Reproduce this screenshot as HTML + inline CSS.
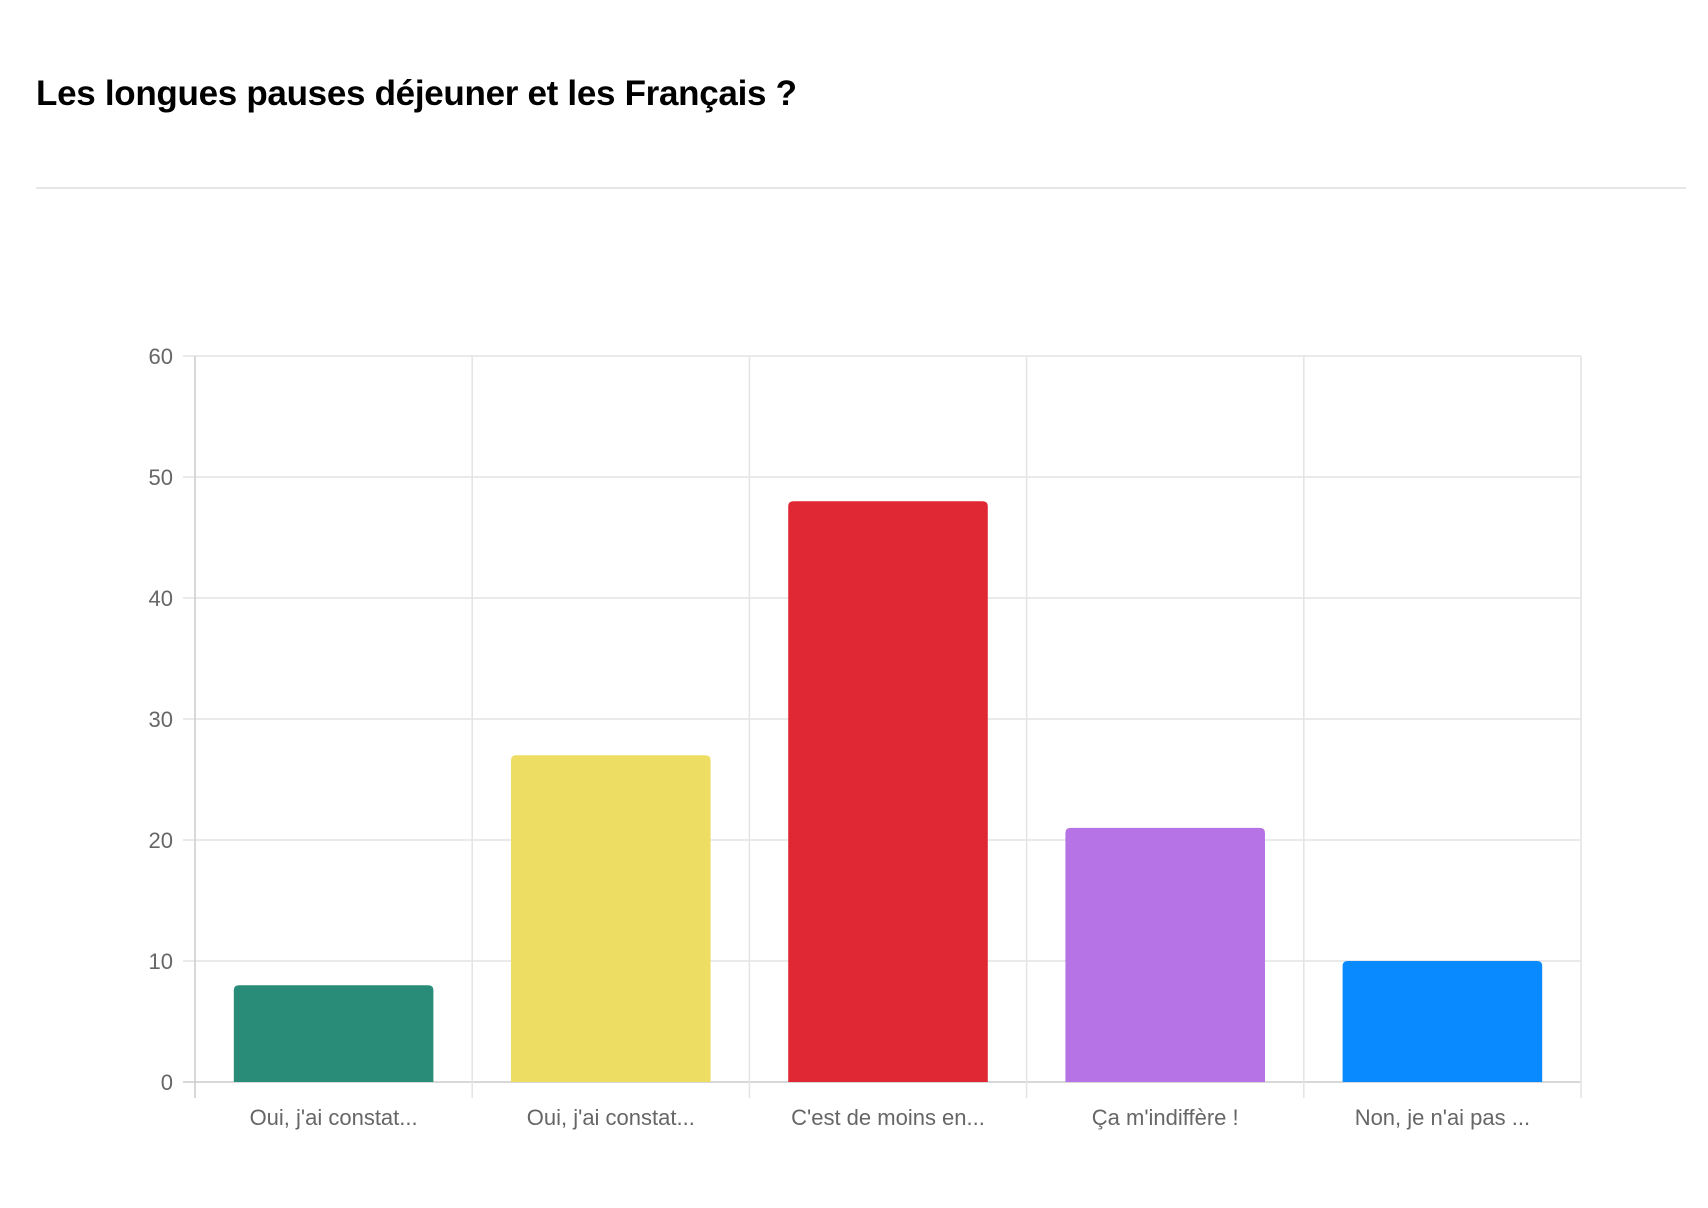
<!DOCTYPE html>
<html><head><meta charset="utf-8"><style>
body{margin:0;background:#fff;width:1708px;height:1208px;overflow:hidden;font-family:"Liberation Sans",sans-serif}
#title{position:absolute;left:36px;top:74px;font-size:35px;font-weight:bold;color:#000;letter-spacing:-0.3px;margin:0}
#sep{position:absolute;left:36px;top:187px;width:1650px;height:2px;background:#e6e6e6}
</style></head><body>
<h1 id="title">Les longues pauses déjeuner et les Français ?</h1>
<div id="sep"></div>
<svg id="chart" width="1708" height="1208" style="position:absolute;left:0;top:0"></svg>
<script>
const categories=["Oui, j'ai constat...","Oui, j'ai constat...","C'est de moins en...","Ça m'indiffère !","Non, je n'ai pas ..."];
const values=[8,27,48,21,10];
const colors=["#288C78","#EDDD62","#E02734","#B673E6","#0A8AFF"];
const yTicks=[0,10,20,30,40,50,60];
const L=195,R=1581,T=356,B=1082,yMax=60;
const svg=document.getElementById('chart');
const NS='http://www.w3.org/2000/svg';
const y=v=>B-(v/yMax)*(B-T);
const cw=(R-L)/categories.length;
const x=i=>L+i*cw;
function mk(t,a){const e=document.createElementNS(NS,t);for(const k in a)e.setAttribute(k,a[k]);svg.appendChild(e);return e;}
yTicks.forEach(t=>{
  const l=mk('line',{x1:L-12,x2:R,y1:y(t),y2:y(t),stroke:t===0?'#ccc':'#e4e4e4','stroke-width':1.5});
  
  
  const tx=mk('text',{x:L-22,y:y(t)+8,'text-anchor':'end','font-size':22,fill:'#666','font-family':'Liberation Sans, sans-serif'});
  tx.textContent=t;
  
  
});
for(let i=0;i<=categories.length;i++){
  const l=mk('line',{x1:x(i),x2:x(i),y1:T,y2:B+16,stroke:i===0?'#ccc':'#e4e4e4','stroke-width':1.5});
  
  
}
categories.forEach((c,i)=>{
  const bw=cw*0.72,bx=x(i)+(cw-bw)/2,by=y(values[i]),h=B-by,r=5;
  const p=mk('path',{d:`M${bx},${B} V${by+r} Q${bx},${by} ${bx+r},${by} H${bx+bw-r} Q${bx+bw},${by} ${bx+bw},${by+r} V${B} Z`,fill:colors[i]});
  
  
  const tx=mk('text',{x:x(i)+cw/2,y:1125,'text-anchor':'middle','font-size':22,fill:'#666','font-family':'Liberation Sans, sans-serif'});
  tx.textContent=c;
  
  
});
</script>
</body></html>
